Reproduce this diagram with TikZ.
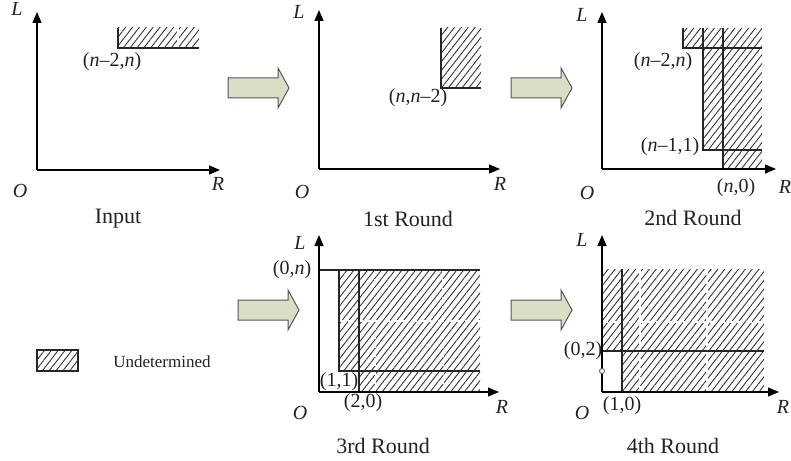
\documentclass[tikz,border=0pt]{standalone}
\usepackage{fontspec}
\setmainfont{Liberation Serif}
\usetikzlibrary{patterns.meta,arrows.meta}
\definecolor{arrfill}{RGB}{217,223,199}
\definecolor{arrline}{RGB}{85,85,85}
\definecolor{txt}{RGB}{34,34,34}
\tikzset{
 axisline/.style={line width=0.7pt,-{Triangle[length=5.5pt,width=4.5pt]}},
 hatchfill/.style={pattern={Lines[angle=52,distance=2.7pt,line width=0.45pt]},pattern color=black!80},
 border/.style={line width=0.6pt,black!85},
 wdash/.style={white,dash pattern=on 3pt off 1.5pt,line width=0.6pt},
 lbl/.style={font=\fontsize{10}{12}\selectfont,text=txt,inner sep=0pt},
 captxt/.style={font=\fontsize{11}{13}\selectfont,text=txt,inner sep=0pt},
 axl/.style={font=\fontsize{10}{12}\selectfont\itshape,text=txt,inner sep=0pt},
 blockarrow/.style={fill=arrfill,draw=arrline,line width=0.5pt},
}
\newcommand{\blockarr}[2]{%
 \filldraw[blockarrow,shift={(#1,#2)}] (0,-10) -- (50,-10) -- (50,-20) -- (61,0) -- (50,20) -- (50,10) -- (0,10) -- cycle;}
\begin{document}
\begin{tikzpicture}[x=0.5pt,y=-0.5pt]
\useasboundingbox (0,0) rectangle (791,460);

% ---------- Panel 1: Input ----------
\fill[hatchfill] (118,28) rectangle (199,48);
\draw[wdash] (178,28) -- (178,48);
\draw[border] (118,28) -- (118,48) -- (199,48);
\coordinate (o1) at (37,170);
\coordinate (y1) at (37,12);
\coordinate (x1) at (220,170);
\draw[axisline] (o1) -- (y1);
\draw[axisline] (o1) -- (x1);
\node[axl] (L1) at (17,9) {L};
\node[axl] (R1) at (218,184) {R};
\node[axl] (O1) at (20,191) {O};
\node[lbl] (p1a) at (112,62) {(\textit{n}–2,\textit{n})};
\node[captxt] (c1) at (118,219) {Input};

% ---------- Arrow 1 ----------
\blockarr{228}{88}

% ---------- Panel 2: 1st Round ----------
\fill[hatchfill] (441,28) rectangle (481,88);
\draw[border] (441,28) -- (441,88) -- (481,88);
\coordinate (o2) at (319,169);
\coordinate (y2) at (319,10);
\coordinate (x2) at (500,169);
\draw[axisline] (o2) -- (y2);
\draw[axisline] (o2) -- (x2);
\node[axl] (L2) at (299,12) {L};
\node[axl] (R2) at (500,184) {R};
\node[axl] (O2) at (302,192) {O};
\node[lbl] (p2a) at (418,98) {(\textit{n},\textit{n}–2)};
\node[captxt] (c2) at (408,219) {1st Round};

% ---------- Arrow 2 ----------
\blockarr{511}{88}

% ---------- Panel 3: 2nd Round ----------
\fill[hatchfill] (683,28) -- (762,28) -- (762,169) -- (723,169) -- (723,150) -- (703,150) -- (703,48) -- (683,48) -- cycle;
\draw[border] (683,28) -- (683,48) -- (762,48);
\draw[border] (703,28) -- (703,150) -- (762,150);
\draw[border] (723,28) -- (723,169);
\coordinate (o3) at (602,169);
\coordinate (y3) at (602,12);
\coordinate (x3) at (776,169);
\draw[axisline] (o3) -- (y3);
\draw[axisline] (o3) -- (x3);
\node[axl] (L3) at (582,15) {L};
\node[axl] (R3) at (785,187) {R};
\node[axl] (O3) at (587,193) {O};
\node[lbl] (p3a) at (663,62) {(\textit{n}–2,\textit{n})};
\node[lbl] (p3b) at (670,147) {(\textit{n}–1,1)};
\node[lbl] (p3c) at (736,188) {(\textit{n},0)};
\node[captxt] (c3) at (693,218) {2nd Round};

% ---------- Arrow 3 ----------
\blockarr{238}{310}

% ---------- Panel 4: 3rd Round ----------
\fill[hatchfill] (339,270) -- (480,270) -- (480,392) -- (359,392) -- (359,371) -- (339,371) -- cycle;
\draw[wdash] (339,321) -- (480,321);
\draw[wdash] (375,270) -- (375,392);
\draw[wdash] (443,270) -- (443,392);
\draw[border] (319,270) -- (480,270);
\draw[border] (339,270) -- (339,371) -- (480,371);
\draw[border] (359,270) -- (359,392);
\coordinate (o4) at (319,392);
\coordinate (y4) at (319,235);
\coordinate (x4) at (499,392);
\draw[axisline] (o4) -- (y4);
\draw[axisline] (o4) -- (x4);
\node[axl] (L4) at (300,243) {L};
\node[axl] (R4) at (502,407) {R};
\node[axl] (O4) at (300,413) {O};
\node[lbl] (p4a) at (292,270) {(0,\textit{n})};
\node[lbl] (p4b) at (339,382) {(1,1)};
\node[lbl] (p4c) at (363,403) {(2,0)};
\node[captxt] (c4) at (383,446) {3rd Round};

% ---------- Arrow 4 ----------
\blockarr{511}{310}

% ---------- Panel 5: 4th Round ----------
\fill[hatchfill] (602,269) -- (764,269) -- (764,392) -- (622,392) -- (622,351) -- (602,351) -- cycle;
\draw[wdash] (602,322) -- (764,322);
\draw[wdash] (640,269) -- (640,392);
\draw[wdash] (707,269) -- (707,392);
\draw[border] (622,269) -- (622,392);
\draw[border] (602,351) -- (764,351);
\coordinate (o5) at (602,392);
\coordinate (y5) at (602,235);
\coordinate (x5) at (779,392);
\draw[axisline] (o5) -- (y5);
\draw[axisline] (o5) -- (x5);
\node[circle,draw=black!70,fill=white,line width=0.4pt,inner sep=0pt,minimum size=2.5pt] (dot5) at (602,371) {};
\node[axl] (L5) at (582,240) {L};
\node[axl] (R5) at (783,407) {R};
\node[axl] (O5) at (582,413) {O};
\node[lbl] (p5a) at (583,351) {(0,2)};
\node[lbl] (p5b) at (622,406) {(1,0)};
\node[captxt] (c5) at (673,446) {4th Round};

% ---------- Legend ----------
\fill[hatchfill] (37,350) rectangle (78,371);
\draw[border] (37,350) rectangle (78,371);
\node[font=\fontsize{8.5}{10}\selectfont,text=txt,inner sep=0pt] (leg) at (162,362) {Undetermined};
\end{tikzpicture}
\end{document}
